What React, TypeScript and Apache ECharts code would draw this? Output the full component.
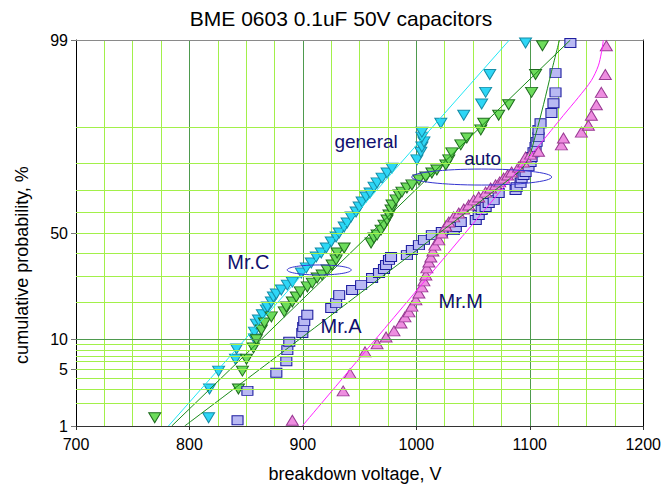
import React, { useEffect, useRef } from "react";
import * as echarts from "echarts";

const FONT = '"Liberation Sans", Arial, sans-serif';

// Breakdown voltage (V) and cumulative probability (%) per group
const mrCGeneral: [number, number][] = [
  [816.9, 1.3], [817.7, 3.0], [825.7, 4.8], [840.6, 6.4], [841.5, 8.1], [857.3, 10.1],
  [857.3, 11.6], [859.0, 13.6], [860.8, 14.7], [864.3, 16.2], [867.8, 17.7], [868.7, 18.6],
  [872.2, 20.3], [874.0, 22.0], [876.6, 23.1], [881.0, 24.6], [886.3, 26.5], [890.7, 27.7],
  [898.6, 31.5], [903.0, 33.7], [907.4, 35.9], [911.8, 38.6], [916.2, 40.5], [920.6, 42.8],
  [925.0, 45.7], [929.3, 48.1], [932.0, 50.0], [936.4, 52.9], [939.0, 54.8], [942.5, 57.7],
  [946.9, 60.0], [949.6, 62.3], [952.2, 64.6], [955.7, 66.8], [959.2, 68.5], [962.7, 71.0],
  [965.4, 72.7], [969.8, 74.6], [974.2, 76.5], [978.6, 78.3], [1000.5, 81.1], [1004.0, 83.5],
  [1004.9, 85.0], [1006.7, 86.4], [1004.9, 87.6], [1004.9, 88.8], [1021.6, 90.7], [1041.8, 92.2],
  [1057.6, 94.0], [1061.1, 95.5], [1064.7, 97.2], [1096.3, 98.9],
];

const mrCAuto: [number, number][] = [
  [769.4, 1.3], [843.2, 3.0], [846.7, 4.8], [850.3, 6.4], [856.4, 8.3], [859.0, 9.9],
  [863.4, 12.1], [866.1, 13.9], [872.2, 15.6], [883.6, 17.1], [885.4, 18.6], [890.7, 20.3],
  [894.2, 22.0], [897.7, 23.9], [903.9, 25.8], [908.3, 27.3], [912.6, 29.4], [917.0, 30.6],
  [921.4, 32.8], [925.8, 35.0], [929.3, 37.3], [930.2, 40.5], [936.4, 42.8], [960.1, 45.2],
  [962.7, 47.6], [965.4, 49.0], [968.9, 51.4], [971.5, 53.8], [974.2, 56.2], [975.9, 58.6],
  [977.7, 60.9], [978.6, 63.2], [982.1, 65.5], [984.7, 67.7], [987.3, 68.9], [991.7, 70.6],
  [996.1, 71.9], [1002.3, 73.9], [1008.4, 75.0], [1013.7, 76.5], [1018.1, 77.6], [1026.0, 79.4],
  [1028.6, 81.1], [1031.3, 83.3], [1039.2, 85.6], [1044.5, 87.4], [1056.8, 89.3], [1059.4, 90.7],
  [1072.6, 92.2], [1081.4, 93.9], [1101.6, 95.5], [1105.1, 97.2], [1111.2, 98.8],
];

const mrA: [number, number][] = [
  [842.4, 1.2], [851.1, 2.85], [876.6, 4.6], [885.4, 6.1], [886.3, 7.9], [888.0, 9.5],
  [899.5, 11.4], [900.3, 12.9], [901.2, 14.4], [903.9, 16.2], [925.0, 18.3], [929.3, 19.9],
  [932.0, 22.7], [943.4, 24.6], [951.3, 26.5], [961.0, 29.4], [967.1, 31.5], [971.5, 33.2],
  [973.3, 35.0], [975.9, 37.3], [977.7, 38.6], [991.7, 39.5], [996.1, 41.9], [1002.3, 44.2],
  [1006.7, 46.7], [1013.7, 49.0], [1022.5, 50.5], [1033.0, 51.4], [1034.8, 52.9], [1039.2, 55.3],
  [1052.4, 56.2], [1055.0, 58.6], [1057.6, 60.9], [1061.1, 62.3], [1063.8, 64.1], [1068.2, 65.5],
  [1072.6, 68.5], [1087.5, 69.8], [1088.4, 71.0], [1091.9, 72.7], [1092.8, 74.6], [1094.5, 75.8],
  [1096.3, 76.9], [1098.9, 79.0], [1100.7, 80.4], [1101.6, 82.0], [1103.3, 83.5], [1105.1, 85.0],
  [1106.0, 86.4], [1107.7, 87.6], [1107.7, 89.3], [1109.5, 90.7], [1119.1, 92.6], [1120.9, 94.1],
  [1122.7, 95.5], [1122.7, 97.3], [1135.8, 98.9],
];

const mrM: [number, number][] = [
  [890.7, 1.2], [935.5, 2.85], [941.6, 4.5], [954.8, 7.6], [965.4, 9.1], [973.3, 10.5],
  [980.3, 11.9], [986.5, 13.9], [990.0, 15.6], [993.5, 17.1], [996.1, 18.9], [999.6, 21.0],
  [1002.3, 23.5], [1004.9, 25.8], [1006.7, 28.2], [1008.4, 30.6], [1009.3, 33.7], [1011.1, 36.3],
  [1012.8, 38.6], [1014.6, 41.4], [1016.3, 44.2], [1019.8, 46.7], [1022.5, 50.0], [1026.0, 53.4],
  [1028.6, 55.3], [1033.0, 57.7], [1037.4, 59.5], [1041.8, 61.4], [1046.2, 63.2], [1050.6, 65.5],
  [1055.0, 66.8], [1061.1, 68.9], [1065.5, 70.6], [1069.9, 71.9], [1073.5, 73.1], [1077.0, 74.6],
  [1080.5, 75.8], [1084.0, 76.9], [1090.1, 78.7], [1094.5, 80.4], [1096.3, 82.0], [1100.7, 82.9],
  [1107.7, 83.8], [1127.9, 85.6], [1129.7, 87.4], [1145.5, 88.8], [1151.7, 90.3], [1154.3, 92.2],
  [1158.7, 93.9], [1163.1, 95.5], [1166.6, 97.2], [1167.5, 98.8],
];

// Fitted distribution curves
const fitMrCGeneral: [number, number][] = [[781.5, 1], [1082, 99]];
const fitMrCAuto: [number, number][] = [[784.4, 1], [1135.8, 99]];
const fitMrA: [number, number][] = [
  [795.8, 1], [1090.1, 76.9], [1098.9, 81.7], [1105.1, 88.1], [1112.1, 93.9], [1119.1, 97.4], [1126.2, 99],
];
const fitMrM: [number, number][] = [
  [899.5, 1], [1107.7, 85.3], [1129.7, 92.2], [1142.9, 94.9], [1154.3, 96.7], [1160.4, 97.8], [1163.1, 98.5], [1164.9, 99],
];

// Probability scale
const yTickPct = [1, 5, 10, 50, 99];
const gridPct = [2, 3, 4, 5, 6, 7, 8, 9, 10, 20, 30, 40, 50, 60, 70, 80, 90];

// Text annotations: [label, voltage, percent, fontSize]
const notes: [string, number, number, number][] = [
  ["general", 955.7, 86.4, 19],
  ["auto", 1058.5, 81.7, 19],
  ["Mr.C", 852.0, 36.3, 20],
  ["Mr.A", 933.7, 13.1, 20],
  ["Mr.M", 1039.2, 20.6, 20],
];
// Grouping ellipses: [voltage, percent, rx, ry]
const rings: [number, number, number, number][] = [
  [1057.6, 75.0, 70, 8],
  [914.4, 32.8, 32, 5],
];

function probit(p: number): number {
  const a = [-3.969683028665376e1, 2.209460984245205e2, -2.759285104469687e2, 1.38357751867269e2, -3.066479806614716e1, 2.506628277459239];
  const b = [-5.447609879822406e1, 1.615858368580409e2, -1.556989798598866e2, 6.680131188771972e1, -1.328068155288572e1];
  const c = [-7.784894002430293e-3, -3.223964580411365e-1, -2.400758277161838, -2.549732539343734, 4.374664141464968, 2.938163982698783];
  const d = [7.784695709041462e-3, 3.224671290700398e-1, 2.445134137142996, 3.754408661907416];
  const plow = 0.02425;
  if (p < plow) {
    const q = Math.sqrt(-2 * Math.log(p));
    return (((((c[0] * q + c[1]) * q + c[2]) * q + c[3]) * q + c[4]) * q + c[5]) / ((((d[0] * q + d[1]) * q + d[2]) * q + d[3]) * q + 1);
  }
  if (p <= 1 - plow) {
    const q = p - 0.5;
    const r = q * q;
    return ((((((a[0] * r + a[1]) * r + a[2]) * r + a[3]) * r + a[4]) * r + a[5]) * q) / (((((b[0] * r + b[1]) * r + b[2]) * r + b[3]) * r + b[4]) * r + 1);
  }
  const q = Math.sqrt(-2 * Math.log(1 - p));
  return -(((((c[0] * q + c[1]) * q + c[2]) * q + c[3]) * q + c[4]) * q + c[5]) / ((((d[0] * q + d[1]) * q + d[2]) * q + d[3]) * q + 1);
}

const toZ = (pts: [number, number][]) => pts.map(([v, p]) => [v, probit(p / 100)]);

const Z_MIN = probit(0.01);
const Z_MAX = probit(0.99);
const tickZ = yTickPct.map((p) => probit(p / 100));

const LIGHT = "#a2f04a";
const DARK = "#4e9a4e";
const NAVY = "#10106e";

function scatter(name: string, pts: [number, number][], symbol: string, size: number[], rotate: number, fill: string, edge: string) {
  return {
    name,
    type: "scatter",
    data: toZ(pts),
    symbol,
    symbolSize: size,
    symbolRotate: rotate,
    itemStyle: { color: fill, borderColor: edge, borderWidth: 1, opacity: 1 },
    z: 3,
    silent: true,
  };
}

function fit(name: string, pts: [number, number][], color: string, smooth: number) {
  return {
    name,
    type: "line",
    data: toZ(pts),
    showSymbol: false,
    symbol: "none",
    smooth,
    lineStyle: { color, width: 1 },
    z: 4,
    silent: true,
  };
}

export default function App() {
  const ref = useRef<HTMLDivElement>(null);

  useEffect(() => {
    if (!ref.current) return;
    const chart = echarts.init(ref.current, undefined, { renderer: "svg" });
    const option: any = {
      animation: false,
      backgroundColor: "#ffffff",
      textStyle: { fontFamily: FONT },
      grid: { left: 76, right: 19, top: 40, bottom: 60 },
      xAxis: [
        {
          type: "value",
          min: 700,
          max: 1200,
          interval: 100,
          axisLine: { show: true, onZero: false, lineStyle: { color: "#333", width: 1 } },
          axisTick: { show: true, length: 4, lineStyle: { color: "#333" } },
          axisLabel: {
            fontSize: 16,
            color: "#000",
            margin: 10,
            fontFamily: FONT,
            formatter: (v: number) => String(v),
          },
          splitLine: { show: true, lineStyle: { color: DARK, width: 1 } },
          minorTick: { show: false, splitNumber: 4 },
          minorSplitLine: { show: true, lineStyle: { color: LIGHT, width: 1 } },
        },
        {
          type: "value",
          position: "top",
          min: 700,
          max: 1200,
          axisLine: { show: true, onZero: false, lineStyle: { color: "#8a8a8a", width: 1 } },
          axisTick: { show: false },
          axisLabel: { show: false },
          splitLine: { show: false },
        },
      ],
      yAxis: [
        {
          type: "value",
          min: Z_MIN,
          max: Z_MAX,
          axisLine: { show: true, onZero: false, lineStyle: { color: "#000", width: 1 } },
          axisTick: { show: true, customValues: tickZ, length: 5, lineStyle: { color: "#777" } },
          axisLabel: {
            customValues: tickZ,
            fontSize: 16,
            color: "#000",
            margin: 8,
            fontFamily: FONT,
            formatter: (v: number) => {
              const i = tickZ.findIndex((z) => Math.abs(z - v) < 1e-6);
              return i >= 0 ? String(yTickPct[i]) : "";
            },
          },
          splitLine: { show: false },
        },
        {
          type: "value",
          position: "right",
          min: Z_MIN,
          max: Z_MAX,
          axisLine: { show: true, onZero: false, lineStyle: { color: "#000", width: 1 } },
          axisTick: { show: false },
          axisLabel: { show: false },
          splitLine: { show: false },
        },
      ],
      series: [
        {
          name: "grid",
          type: "line",
          data: [],
          z: 1,
          silent: true,
          markLine: {
            silent: true,
            symbol: ["none", "none"],
            label: { show: false },
            animation: false,
            data: gridPct.map((p) => ({
              yAxis: probit(p / 100),
              lineStyle: { color: p === 10 ? DARK : LIGHT, width: 1, type: "solid" },
            })),
          },
        },
        scatter("Mr.C general", mrCGeneral, "triangle", [12, 10], 180, "#2ed6f6", "#168ca6"),
        scatter("Mr.C auto", mrCAuto, "triangle", [12, 10], 180, "#6ddc5c", "#1f6b1f"),
        scatter("Mr.A", mrA, "rect", [11, 9], 0, "#b9b9f3", "#1f1fa0"),
        scatter("Mr.M", mrM, "triangle", [12, 10], 0, "#ee8ee0", "#993a93"),
        fit("fit Mr.C general", fitMrCGeneral, "#22e6f4", 0),
        fit("fit Mr.C auto", fitMrCAuto, "#1a8a1a", 0),
        fit("fit Mr.A", fitMrA, "#1a8a1a", 0.3),
        fit("fit Mr.M", fitMrM, "#ff22ff", 0.3),
      ],
    };
    chart.setOption(option);

    const graphics: any[] = [
      {
        type: "text",
        x: 341,
        y: 18,
        style: {
          text: "BME 0603 0.1uF 50V capacitors",
          font: `21px ${FONT}`,
          fill: "#000",
          textAlign: "center",
          textVerticalAlign: "middle",
        },
      },
      {
        type: "text",
        x: 355,
        y: 474,
        style: {
          text: "breakdown voltage, V",
          font: `18px ${FONT}`,
          fill: "#000",
          textAlign: "center",
          textVerticalAlign: "middle",
        },
      },
      {
        type: "text",
        x: 22,
        y: 265,
        rotation: Math.PI / 2,
        style: {
          text: "cumulative probability, %",
          font: `18px ${FONT}`,
          fill: "#000",
          textAlign: "center",
          textVerticalAlign: "middle",
        },
      },
    ];
    notes.forEach(([text, v, p, fs]) => {
      const [x, y] = chart.convertToPixel({ gridIndex: 0 }, [v, probit(p / 100)]) as number[];
      graphics.push({
        type: "text",
        x,
        y,
        z: 10,
        style: { text, font: `${fs}px ${FONT}`, fill: NAVY, textAlign: "center", textVerticalAlign: "middle" },
      });
    });
    rings.forEach(([v, p, rx, ry]) => {
      const [cx, cy] = chart.convertToPixel({ gridIndex: 0 }, [v, probit(p / 100)]) as number[];
      graphics.push({
        type: "ellipse",
        z: 10,
        shape: { cx, cy, rx, ry },
        style: { fill: "none", stroke: "#3434d0", lineWidth: 1 },
      });
    });
    chart.setOption({ graphic: graphics });

    return () => chart.dispose();
  }, []);

  return <div ref={ref} style={{ position: "absolute", left: 0, top: 0, width: 664, height: 486 }} />;
}
